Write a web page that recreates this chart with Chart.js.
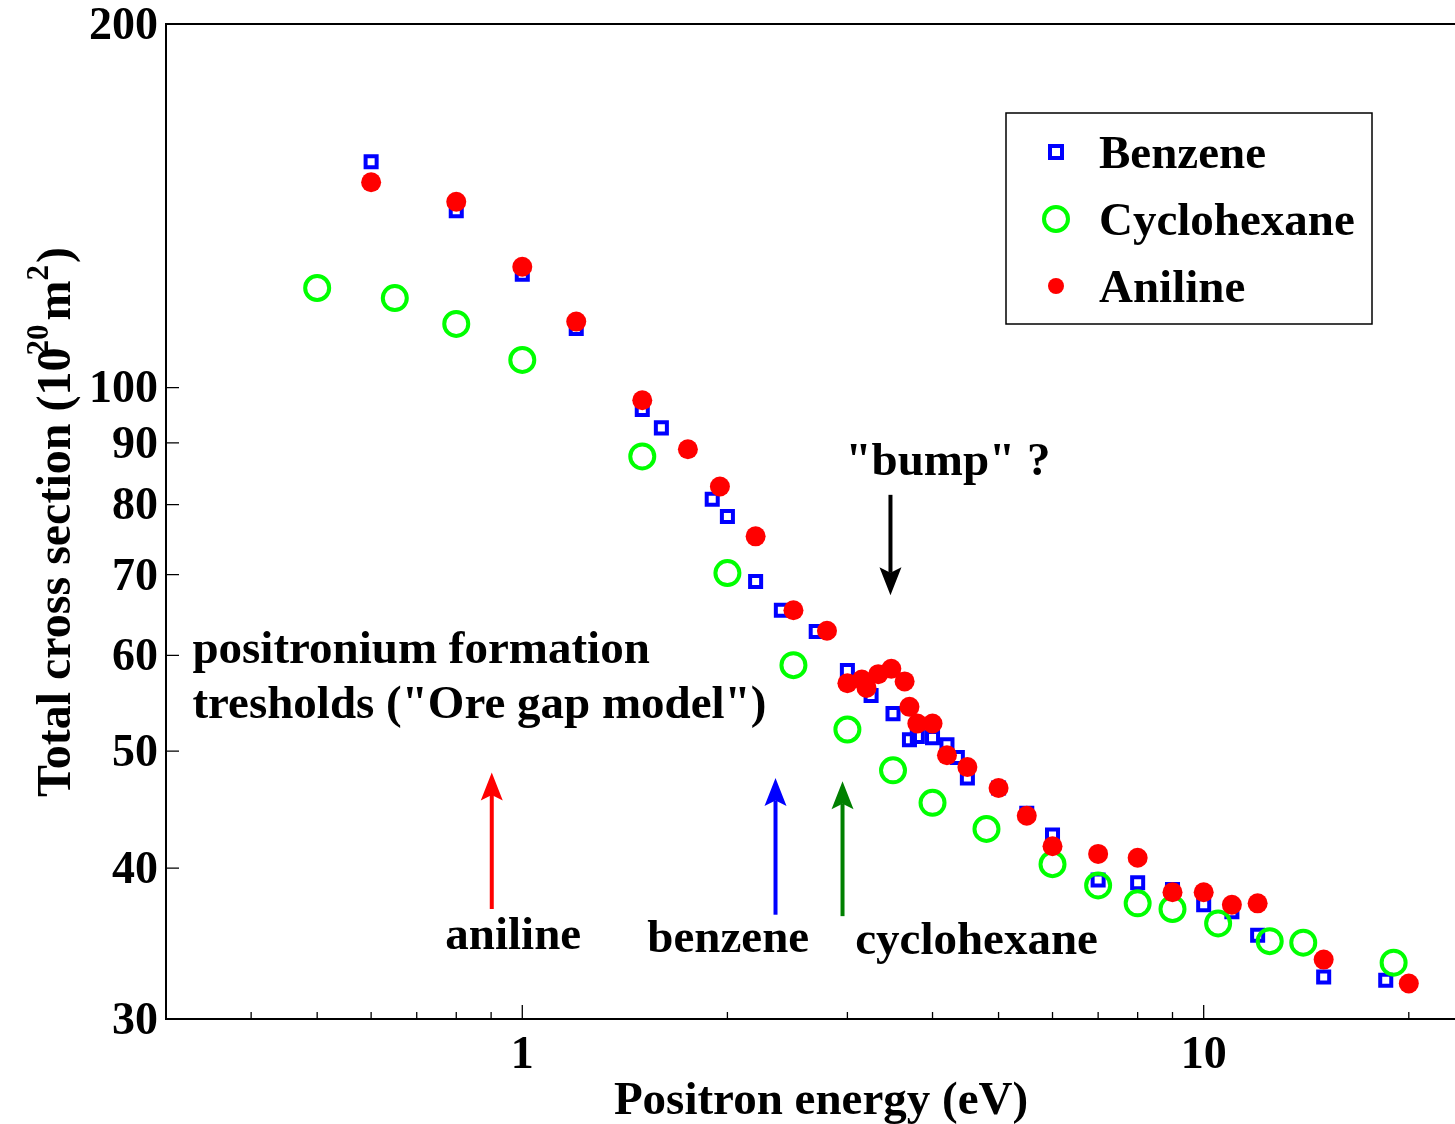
<!DOCTYPE html>
<html lang="en">
<head>
<meta charset="UTF-8">
<title>Total cross section vs positron energy</title>
<script src="https://cdn.jsdelivr.net/npm/chart.js"></script>
<style>
  html, body { margin: 0; padding: 0; background: #fff; overflow: hidden; }
  canvas { display: block; }
</style>
</head>
<body>
<canvas id="tcs" width="1455" height="1124" style="width:1455px;height:1124px"></canvas>
<script>
// values: energy in eV, cross section in 1e-20 m^2
const benzeneE = [0.6, 0.8, 1.0, 1.2, 1.5, 1.6, 1.9, 2.0, 2.2, 2.4, 2.7, 3.0, 3.25, 3.5, 3.7, 3.8, 4.0, 4.2, 4.35, 4.5, 5.0, 5.5, 6, 7, 8, 9, 10, 11, 12, 15, 18.5];
const benzeneQ = [153.8, 140.1, 124.1, 111.9, 95.9, 92.6, 80.8, 78.2, 69.1, 65.4, 62.8, 58.3, 55.6, 53.7, 51.1, 51.4, 51.3, 50.6, 49.4, 47.5, 46.6, 44.4, 42.6, 39.1, 38.9, 38.4, 37.3, 36.8, 35.2, 32.5, 32.3];

const cyclohexaneE = [0.5, 0.65, 0.8, 1.0, 1.5, 2.0, 2.5, 3.0, 3.5, 4.0, 4.8, 6, 7, 8, 9, 10.5, 12.5, 14, 19];
const cyclohexaneQ = [120.9, 118.6, 112.9, 105.4, 87.7, 70.2, 58.9, 52.1, 48.2, 45.3, 43.1, 40.3, 38.7, 37.4, 37.0, 36.0, 34.8, 34.7, 33.4];

const anilineE = [0.6, 0.8, 1.0, 1.2, 1.5, 1.75, 1.95, 2.2, 2.5, 2.8, 3.0, 3.15, 3.2, 3.33, 3.48, 3.64, 3.7, 3.8, 4.0, 4.2, 4.5, 5.0, 5.5, 6, 7, 8, 9, 10, 11, 12, 15, 20];
const anilineQ = [147.9, 142.5, 125.9, 113.4, 97.6, 88.9, 82.8, 75.3, 65.4, 62.9, 56.9, 57.3, 56.4, 57.9, 58.5, 57.1, 54.4, 52.7, 52.7, 49.6, 48.5, 46.6, 44.2, 41.7, 41.1, 40.8, 38.2, 38.2, 37.3, 37.4, 33.6, 32.1];

const yTicks = [30, 40, 50, 60, 70, 80, 90, 100, 200];
const xTicks = [1, 10];
const xMinorTicks = [0.4, 0.5, 0.6, 0.7, 0.8, 0.9, 2, 3, 4, 5, 6, 7, 8, 9, 20];

// Ps formation thresholds (eV) and the "bump" position
const thresholdE = [0.902, 2.353, 2.951];
const bumpE = 3.47;

const SERIF = "'Liberation Serif', 'Times New Roman', serif";
const font = size => `bold ${size}px ${SERIF}`;

function pts(xs, ys) {
  return xs.map((x, i) => ({ x: x, y: ys[i] }));
}

function arrow(ctx, x0, y0, x1, y1, color) {
  const a = Math.atan2(y1 - y0, x1 - x0);
  const c = Math.cos(a), s = Math.sin(a);
  const hl = 28, hw = 11;
  ctx.strokeStyle = color;
  ctx.fillStyle = color;
  ctx.lineWidth = 4;
  ctx.beginPath();
  ctx.moveTo(x0, y0);
  ctx.lineTo(x1 - hl * 0.8 * c, y1 - hl * 0.8 * s);
  ctx.stroke();
  ctx.beginPath();
  ctx.moveTo(x1, y1);
  ctx.lineTo(x1 - hl * c + hw * s, y1 - hl * s - hw * c);
  ctx.lineTo(x1 - hl * 0.8 * c, y1 - hl * 0.8 * s);
  ctx.lineTo(x1 - hl * c - hw * s, y1 - hl * s + hw * c);
  ctx.closePath();
  ctx.fill();
}

// inward tick marks + top edge of the box
const frame = {
  id: 'frame',
  afterDraw(chart) {
    const { ctx, chartArea: a, scales: { x, y } } = chart;
    ctx.save();
    ctx.strokeStyle = '#000';
    ctx.lineWidth = 2;
    ctx.beginPath();
    ctx.moveTo(a.left - 1, a.top);
    ctx.lineTo(a.right + 1, a.top);
    ctx.stroke();
    ctx.lineWidth = 1.3;
    ctx.beginPath();
    yTicks.forEach(v => {
      const py = y.getPixelForValue(v);
      ctx.moveTo(a.left, py);
      ctx.lineTo(a.left + 13, py);
    });
    xTicks.forEach(v => {
      const px = x.getPixelForValue(v);
      ctx.moveTo(px, a.bottom);
      ctx.lineTo(px, a.bottom - 14);
    });
    xMinorTicks.forEach(v => {
      const px = x.getPixelForValue(v);
      ctx.moveTo(px, a.bottom);
      ctx.lineTo(px, a.bottom - 7);
    });
    ctx.stroke();
    ctx.restore();
  }
};

// arrows and text notes, placed in data units
const notes = {
  id: 'notes',
  afterDraw(chart) {
    const { ctx, scales: { x, y } } = chart;
    const X = v => x.getPixelForValue(v);
    const Y = v => y.getPixelForValue(v);
    ctx.save();
    arrow(ctx, X(thresholdE[0]), Y(37.0), X(thresholdE[0]), Y(48.0), '#ff0000');
    arrow(ctx, X(thresholdE[1]), Y(36.6), X(thresholdE[1]), Y(47.5), '#0000ff');
    arrow(ctx, X(thresholdE[2]), Y(36.5), X(thresholdE[2]), Y(47.2), '#008000');
    arrow(ctx, X(bumpE), Y(81.5), X(bumpE), Y(67.3), '#000');

    ctx.fillStyle = '#000';
    ctx.font = font(47);
    ctx.textAlign = 'left';
    ctx.textBaseline = 'alphabetic';
    ctx.fillText('positronium formation', X(0.328), Y(59.1));
    ctx.fillText('tresholds ("Ore gap model")', X(0.328), Y(53.3));
    ctx.fillText('"bump" ?', X(2.98), Y(84.6));
    ctx.fillText('aniline', X(0.771), Y(34.3));
    ctx.fillText('benzene', X(1.526), Y(34.1));
    ctx.fillText('cyclohexane', X(3.08), Y(33.95));
    ctx.restore();
  }
};

// boxed legend in the upper right of the plot
const legendBox = {
  id: 'legendBox',
  afterDraw(chart) {
    const { ctx, chartArea: a } = chart;
    const left = a.right - 448, top = a.top + 89, w = 366, h = 211;
    ctx.save();
    ctx.fillStyle = '#fff';
    ctx.fillRect(left, top, w, h);
    ctx.strokeStyle = '#000';
    ctx.lineWidth = 1.5;
    ctx.strokeRect(left, top, w, h);

    const mx = left + 50;
    const rows = [top + 39, top + 106, top + 173];
    chart.data.datasets.forEach((ds, i) => {
      const cy = rows[i];
      ctx.beginPath();
      if (ds.pointStyle === 'rect') {
        ctx.strokeStyle = ds.borderColor;
        ctx.lineWidth = 4;
        ctx.rect(mx - 6, cy - 6, 12, 12);
        ctx.stroke();
      } else if (ds.borderWidth > 0) {
        ctx.strokeStyle = ds.borderColor;
        ctx.lineWidth = 4;
        ctx.arc(mx, cy, 12, 0, Math.PI * 2);
        ctx.stroke();
      } else {
        ctx.fillStyle = ds.backgroundColor;
        ctx.arc(mx, cy, 8, 0, Math.PI * 2);
        ctx.fill();
      }
      ctx.fillStyle = '#000';
      ctx.font = font(47);
      ctx.textAlign = 'left';
      ctx.textBaseline = 'alphabetic';
      ctx.fillText(ds.label, left + 93, cy + 16);
    });
    ctx.restore();
  }
};

// axis titles (the y one needs superscripts)
const axisTitles = {
  id: 'axisTitles',
  afterDraw(chart) {
    const { ctx } = chart;
    ctx.save();
    ctx.fillStyle = '#000';
    ctx.font = font(47);
    ctx.textAlign = 'center';
    ctx.textBaseline = 'alphabetic';
    ctx.fillText('Positron energy (eV)', 821, 1114);

    ctx.translate(70, 522);
    ctx.rotate(-Math.PI / 2);
    ctx.textAlign = 'left';
    const parts = [
      { t: 'Total cross section (10', size: 48, rise: 0, gap: 0 },
      { t: '20', size: 31, rise: 22, gap: -8 },
      { t: 'm', size: 48, rise: 0, gap: 4 },
      { t: '2', size: 31, rise: 22, gap: 0 },
      { t: ')', size: 48, rise: 0, gap: 2 }
    ];
    let total = 0;
    parts.forEach(p => { ctx.font = font(p.size); p.w = ctx.measureText(p.t).width; total += p.w + p.gap; });
    let cx = -total / 2;
    parts.forEach(p => {
      cx += p.gap;
      ctx.font = font(p.size);
      ctx.fillText(p.t, cx, -p.rise);
      cx += p.w;
    });
    ctx.restore();
  }
};

const tickFont = { family: SERIF, size: 46, weight: 'bold', lineHeight: 1 };

new Chart(document.getElementById('tcs').getContext('2d'), {
  type: 'scatter',
  data: {
    datasets: [
      {
        label: 'Benzene',
        data: pts(benzeneE, benzeneQ),
        pointStyle: 'rect',
        pointRadius: 7.8,
        borderWidth: 4,
        borderColor: '#0000ff',
        backgroundColor: 'rgba(0,0,0,0)',
        order: 3
      },
      {
        label: 'Cyclohexane',
        data: pts(cyclohexaneE, cyclohexaneQ),
        pointStyle: 'circle',
        pointRadius: 12,
        borderWidth: 4,
        borderColor: '#00ff00',
        backgroundColor: 'rgba(0,0,0,0)',
        order: 2
      },
      {
        label: 'Aniline',
        data: pts(anilineE, anilineQ),
        pointStyle: 'circle',
        pointRadius: 10,
        borderWidth: 0,
        borderColor: '#ff0000',
        backgroundColor: '#ff0000',
        order: 1
      }
    ]
  },
  options: {
    responsive: false,
    animation: false,
    layout: { autoPadding: false, padding: { top: 24, right: 1, left: 0, bottom: 0 } },
    plugins: {
      legend: { display: false },
      tooltip: { enabled: false }
    },
    scales: {
      x: {
        type: 'logarithmic',
        min: 0.3,
        max: 23.3,
        afterBuildTicks: s => { s.ticks = xTicks.map(v => ({ value: v })); },
        afterFit: s => {
          s.height = 105;
          s.paddingLeft = 0;
          s.paddingRight = 0;
        },
        grid: { display: false, drawTicks: false },
        border: { display: true, color: '#000', width: 2 },
        ticks: {
          font: tickFont,
          color: '#000',
          padding: 14,
          maxRotation: 0,
          callback: v => String(v)
        }
      },
      y: {
        type: 'logarithmic',
        min: 30,
        max: 200,
        afterBuildTicks: s => { s.ticks = yTicks.map(v => ({ value: v })); },
        afterFit: s => {
          s.width = 166;
          s.paddingTop = 0;
          s.paddingBottom = 0;
        },
        grid: { display: false, drawTicks: false },
        border: { display: true, color: '#000', width: 2 },
        ticks: {
          font: tickFont,
          color: '#000',
          padding: 8,
          labelOffset: 3,
          callback: v => String(v)
        }
      }
    }
  },
  plugins: [frame, notes, legendBox, axisTitles]
});
</script>
</body>
</html>
